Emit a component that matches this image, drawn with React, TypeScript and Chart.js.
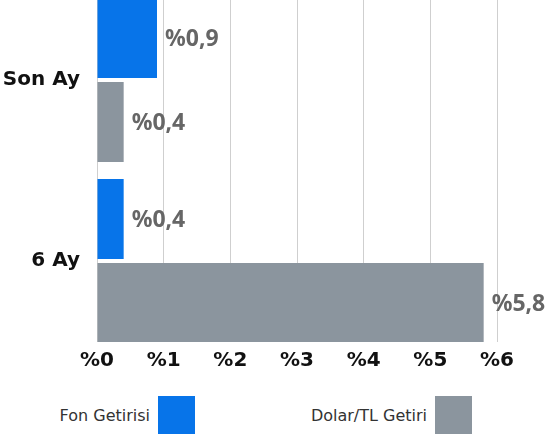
import React, { useEffect, useRef } from "react";
import { Chart, registerables } from "chart.js";

Chart.register(...registerables);

const categories = ["Son Ay", "6 Ay"];
const seriesNames = ["Fon Getirisi", "Dolar/TL Getiri"];
const fonValues = [0.9, 0.4];
const dolarValues = [0.4, 5.8];
const seriesColors = ["#0774E9", "#8B959E"];
const xTicks = [0, 1, 2, 3, 4, 5, 6];

const fmt = (v: number) => "%" + String(v).replace(".", ",");

const valueLabels = {
  id: "valueLabels",
  afterDatasetsDraw(chart: any) {
    const ctx = chart.ctx;
    ctx.save();
    ctx.font = "bold 23px 'Noto Sans'";
    ctx.fillStyle = "#666666";
    ctx.textAlign = "left";
    ctx.textBaseline = "middle";
    chart.data.datasets.forEach((ds: any, di: number) => {
      const meta = chart.getDatasetMeta(di);
      meta.data.forEach((bar: any, i: number) => {
        const v = ds.data[i].x;
        ctx.fillText(fmt(v), bar.x + 8, bar.y + 1);
      });
    });
    ctx.restore();
  },
};

export default function App() {
  const ref = useRef<HTMLCanvasElement>(null);
  useEffect(() => {
    if (!ref.current) return;
    const seriesValues = [fonValues, dolarValues];
    const chart = new Chart(ref.current, {
      type: "bar",
      data: {
        datasets: seriesNames.map((name, si) => ({
          label: name,
          data: seriesValues[si].map((v, i) => ({ x: v, y: i })),
          backgroundColor: seriesColors[si],
          borderWidth: 0,
          barPercentage: 0.952,
          categoryPercentage: 0.928,
        })),
      },
      options: {
        indexAxis: "y",
        animation: false,
        responsive: false,
        layout: { padding: { left: 0, right: 48, top: 0, bottom: 0 } },
        plugins: { legend: { display: false }, tooltip: { enabled: false } },
        scales: {
          x: {
            type: "linear",
            min: xTicks[0],
            max: xTicks[xTicks.length - 1],
            afterBuildTicks: (s: any) => {
              s.ticks = xTicks.map((v) => ({ value: v }));
            },
            afterFit: (s: any) => {
              s.height = 43;
            },
            ticks: {
              callback: (v: any) => "%" + v,
              font: { family: "'DejaVu Sans'", size: 20, weight: "bold" },
              color: "#111",
              padding: 7,
            },
            grid: { color: "#cfcfcf", lineWidth: 1, drawTicks: false },
            border: { display: false },
          },
          y: {
            type: "linear",
            reverse: true,
            offset: false,
            bounds: "data",
            min: -0.442,
            max: 1.4475,
            afterBuildTicks: (s: any) => {
              s.ticks = categories.map((_, i) => ({ value: i }));
            },
            afterFit: (s: any) => {
              s.width = 97;
            },
            ticks: {
              callback: (v: any) => categories[v] ?? "",
              font: { family: "'DejaVu Sans'", size: 20, weight: "bold" },
              color: "#111",
              padding: 17,
            },
            grid: { display: false, drawTicks: false, offset: false },
            border: { display: false },
          },
        },
      },
      plugins: [valueLabels],
    } as any);
    return () => chart.destroy();
  }, []);

  const legendRights = [350, 73];
  return (
    <div style={{ position: "absolute", left: 0, top: 0, width: 545, height: 442, background: "#fff", overflow: "hidden" }}>
      <canvas ref={ref} width={545} height={414} style={{ position: "absolute", left: 0, top: -29 }} />
      {seriesNames.map((name, i) => (
        <div
          key={name}
          style={{
            position: "absolute",
            top: 396,
            right: legendRights[i],
            height: 38,
            display: "flex",
            alignItems: "center",
            gap: 8,
            fontFamily: "'DejaVu Sans'",
            fontSize: 16,
            color: "#333",
          }}
        >
          <span>{name}</span>
          <span style={{ display: "inline-block", width: 37, height: 38, background: seriesColors[i] }} />
        </div>
      ))}
    </div>
  );
}
